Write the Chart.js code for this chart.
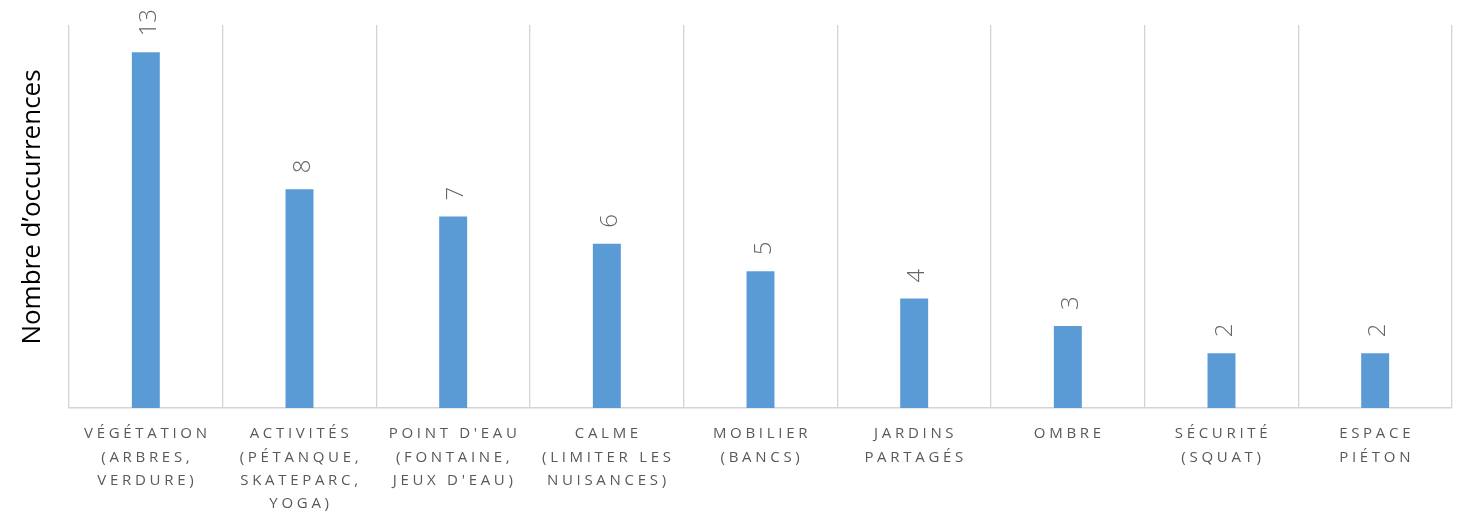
<!DOCTYPE html>
<html>
<head>
<meta charset="utf-8">
<script src="https://cdn.jsdelivr.net/npm/chart.js@4/dist/chart.umd.min.js"></script>
<style>
  html, body { margin: 0; padding: 0; background: #ffffff; }
  #wrap { width: 1466px; height: 512px; }
</style>
</head>
<body>
<div id="wrap"><canvas id="c" width="1466" height="512"></canvas></div>
<script>
// ---- Data ----
const categories = [
  ['VÉGÉTATION', '(ARBRES,', 'VERDURE)'],
  ['ACTIVITÉS', '(PÉTANQUE,', 'SKATEPARC,', 'YOGA)'],
  ["POINT D'EAU", '(FONTAINE,', "JEUX D'EAU)"],
  ['CALME', '(LIMITER LES', 'NUISANCES)'],
  ['MOBILIER', '(BANCS)'],
  ['JARDINS', 'PARTAGÉS'],
  ['OMBRE'],
  ['SÉCURITÉ', '(SQUAT)'],
  ['ESPACE', 'PIÉTON']
];
const occurrences = [13, 8, 7, 6, 5, 4, 3, 2, 2];
const yAxisTitle = 'Nombre d’occurrences';
const yMin = 0;
const yMax = 14;

// ---- Plugins ----
const whiteBg = {
  id: 'whiteBg',
  beforeDraw(chart) {
    const ctx = chart.ctx;
    ctx.save();
    ctx.fillStyle = '#ffffff';
    ctx.fillRect(0, 0, chart.width, chart.height);
    ctx.restore();
  }
};

const xLetterSpacing = {
  id: 'xLetterSpacing',
  beforeDraw(chart) {
    const s = chart.scales.x;
    if (s && !s._lsWrapped) {
      const orig = s.drawLabels;
      s.drawLabels = function (area) {
        const ctx = this.ctx;
        ctx.save();
        ctx.letterSpacing = '3.7px';
        ctx.translate(1.5, 1.5);
        orig.call(this, area);
        ctx.restore();
      };
      s._lsWrapped = true;
    }
  }
};

const valueLabels = {
  id: 'valueLabels',
  afterDatasetsDraw(chart) {
    const ctx = chart.ctx;
    const meta = chart.getDatasetMeta(0);
    const ds = chart.data.datasets[0].data;
    const fs = 24;
    ctx.save();
    ctx.font = '300 ' + fs + 'px "Open Sans"';
    ctx.fillStyle = '#666666';
    ctx.textAlign = 'left';
    ctx.textBaseline = 'alphabetic';
    meta.data.forEach((bar, i) => {
      ctx.save();
      ctx.translate(bar.x + 10, bar.y - 16);
      ctx.rotate(-Math.PI / 2);
      ctx.fillText(String(ds[i]), 0, 0);
      ctx.restore();
    });
    ctx.restore();
  }
};

const yTitle = {
  id: 'yTitle',
  afterDraw(chart) {
    const ctx = chart.ctx;
    ctx.save();
    ctx.font = '26px "Open Sans"';
    ctx.fillStyle = '#000000';
    ctx.textAlign = 'center';
    ctx.textBaseline = 'middle';
    ctx.translate(33, 207);
    ctx.rotate(-Math.PI / 2);
    ctx.fillText(yAxisTitle, 0, 0);
    ctx.restore();
  }
};

// ---- Chart ----
new Chart(document.getElementById('c'), {
  type: 'bar',
  data: {
    labels: categories,
    datasets: [{
      data: occurrences,
      backgroundColor: '#5B9BD5',
      borderWidth: 0,
      categoryPercentage: 1.0,
      barPercentage: 0.182
    }]
  },
  options: {
    responsive: false,
    devicePixelRatio: 1,
    animation: false,
    layout: { padding: { left: 69, right: 14, top: 25, bottom: 0 } },
    plugins: {
      legend: { display: false },
      tooltip: { enabled: false }
    },
    scales: {
      x: {
        offset: true,
        grid: {
          display: true,
          offset: true,
          color: '#d4d4d4',
          lineWidth: 1.3,
          drawTicks: false
        },
        border: { display: true, color: '#d4d4d4', width: 1.5 },
        ticks: {
          autoSkip: false,
          maxRotation: 0,
          minRotation: 0,
          padding: 13,
          color: '#595959',
          font: { family: '"Open Sans"', size: 15, lineHeight: 1.55 }
        },
        afterFit(scale) { scale.height = 104; }
      },
      y: {
        display: false,
        min: yMin,
        max: yMax
      }
    }
  },
  plugins: [whiteBg, xLetterSpacing, valueLabels, yTitle]
});
</script>
</body>
</html>
